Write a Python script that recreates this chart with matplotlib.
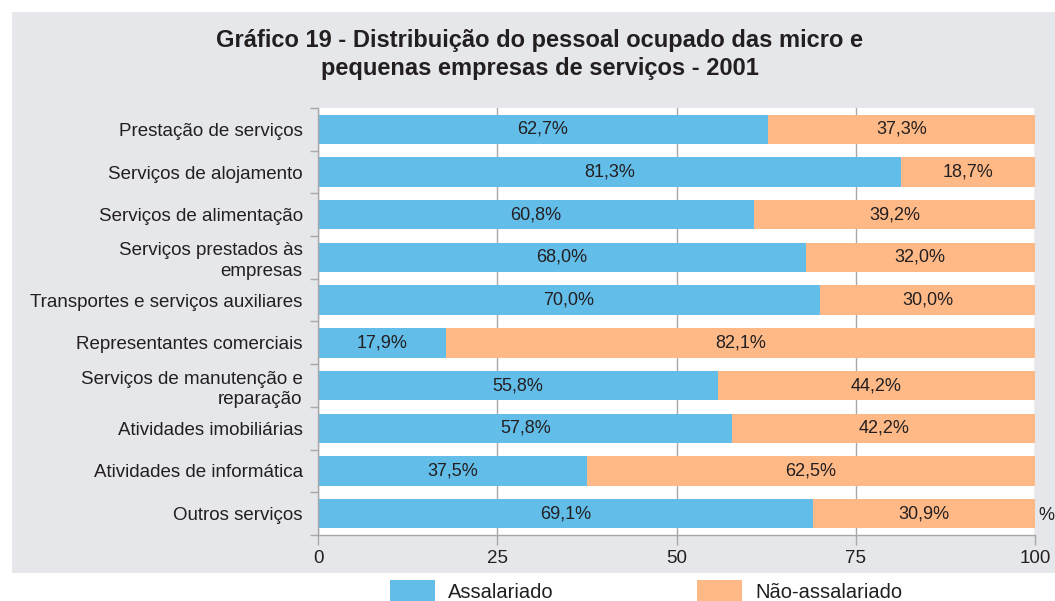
import numpy as np
import matplotlib.pyplot as plt
from matplotlib.patches import Rectangle

categorias = ["Prestação de serviços", "Serviços de alojamento", "Serviços de alimentação",
              "Serviços prestados às\nempresas", "Transportes e serviços auxiliares",
              "Representantes comerciais", "Serviços de manutenção e\nreparação",
              "Atividades imobiliárias", "Atividades de informática", "Outros serviços"]
assalariado = [62.7, 81.3, 60.8, 68.0, 70.0, 17.9, 55.8, 57.8, 37.5, 69.1]
nao_assalariado = [37.3, 18.7, 39.2, 32.0, 30.0, 82.1, 44.2, 42.2, 62.5, 30.9]
xticks = [0, 25, 50, 75, 100]

azul = "#62bde9"
laranja = "#ffb987"
cinza_fundo = "#e6e7ea"
texto = "#231f20"
cinza_linha = "#a8a8a8"

plt.rcParams['font.family'] = ['Liberation Sans', 'DejaVu Sans']

fig = plt.figure(figsize=(10.55, 6.01), dpi=100)
fig.patch.set_facecolor("white")
fig.patches.append(Rectangle((12/1055, 1 - 573/601), 1.0, (573 - 12)/601,
                             transform=fig.transFigure, facecolor=cinza_fundo,
                             edgecolor="none", zorder=-10))

ax = fig.add_axes([318/1055, 1 - 535/601, (1035 - 318)/1055, (535 - 108)/601])
ax.set_facecolor("white")

y = np.arange(len(categorias))
ax.barh(y, assalariado, height=0.69, color=azul, zorder=2)
ax.barh(y, nao_assalariado, left=assalariado, height=0.69, color=laranja, zorder=2)

for i in range(len(categorias)):
    a = assalariado[i]
    n = nao_assalariado[i]
    ax.text(a / 2, y[i], f"{a:.1f}".replace('.', ',') + "%", ha="center", va="center",
            fontsize=13, color=texto, zorder=3)
    ax.text(a + n / 2, y[i], f"{n:.1f}".replace('.', ',') + "%", ha="center", va="center",
            fontsize=13, color=texto, zorder=3)

ax.set_ylim(len(categorias) - 0.5, -0.5)
ax.set_xlim(0, 100)
ax.set_yticks(y)
ax.set_yticklabels(categorias, fontsize=13.5, color=texto, linespacing=1.3)
ax.set_yticks(np.arange(len(categorias) + 1) - 0.5, minor=True)
ax.tick_params(axis="y", which="major", length=0, pad=11)
ax.tick_params(axis="y", which="minor", length=6, width=1, color=cinza_linha)
ax.set_xticks(xticks)
ax.set_xticklabels([str(v) for v in xticks], fontsize=13.5, color=texto)
ax.tick_params(axis="x", length=7, width=1, color=cinza_linha, pad=4)
ax.grid(axis="x", color=cinza_linha, linewidth=1, zorder=1)
for s in ["top", "right"]:
    ax.spines[s].set_visible(False)
for s in ["left", "bottom"]:
    ax.spines[s].set_color(cinza_linha)
    ax.spines[s].set_linewidth(1)

fig.text(1046/1055, 1 - 516/601, "%", ha="center", va="center", fontsize=13, color=texto)

fig.text(540/1055, 1 - 40/601, "Gráfico 19 - Distribuição do pessoal ocupado das micro e",
         ha="center", va="center", fontsize=17, fontweight="bold", color=texto)
fig.text(540/1055, 1 - 68/601, "pequenas empresas de serviços - 2001",
         ha="center", va="center", fontsize=17, fontweight="bold", color=texto)

# legenda
for x0, cor, rotulo in [(390, azul, "Assalariado"), (697, laranja, "Não-assalariado")]:
    fig.patches.append(Rectangle((x0/1055, 1 - 602/601), 45/1055, 22/601,
                                 transform=fig.transFigure, facecolor=cor, edgecolor="none"))
    fig.text((x0 + 58)/1055, 1 - 592/601, rotulo, ha="left", va="center",
             fontsize=14.5, color=texto)

fig.savefig("out.png", dpi=100)
